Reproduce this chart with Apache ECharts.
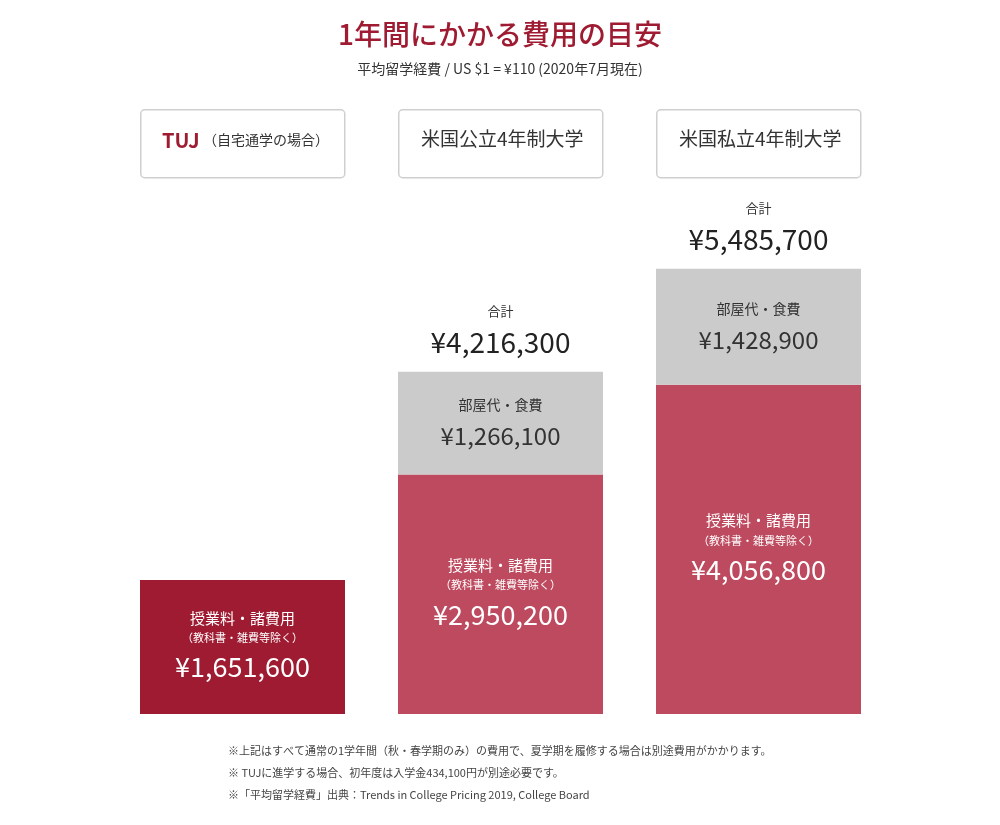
<!DOCTYPE html>
<html><head><meta charset="utf-8">
<script src="https://cdn.jsdelivr.net/npm/echarts@6/dist/echarts.min.js"></script>
<style>html,body{margin:0;background:#fff}#box1{width:1000px;height:825px}</style>
</head><body><div id="box1"></div>
<script>
var categories = ['TUJ', '米国公立4年制大学', '米国私立4年制大学'];
var tuition = [1651600, 2950200, 4056800];
var room = [0, 1266100, 1428900];
var totals = [1651600, 4216300, 5485700];
var tuitionColors = ['#9e1b32', '#bd4a5f', '#bd4a5f'];

var font = '"Noto Sans CJK JP", "Open Sans", sans-serif';
function yen(v) { return '¥' + v.toLocaleString('en-US'); }

var myChart = echarts.init(document.getElementById('box1'));

var boxes = [];
var boxLeft = [140, 398, 656];
boxLeft.forEach(function (x, i) {
    boxes.push({ type: 'rect', left: x, top: 109, shape: { width: 204, height: 68, r: 4 },
        style: { fill: '#fff', stroke: '#cfcfcf', lineWidth: 1.5 } });
});

option = {
    textStyle: { fontFamily: font },
    grid: { left: 113.5, right: 112.5, top: 227, bottom: 111 },
    xAxis: { type: 'category', data: categories, show: false },
    yAxis: { type: 'value', min: 0, max: 6000000, show: false },
    graphic: boxes.concat([
        { type: 'text', left: 'center', top: 20, style: { text: '1年間にかかる費用の目安', fill: '#9e1b32', font: '500 28px ' + font } },
        { type: 'text', left: 'center', top: 62, style: { text: '平均留学経費 / US $1 = ¥110 (2020年7月現在)', fill: '#333', font: '14px ' + font } },
        { type: 'text', left: 162, top: 130, style: { rich: {
            a: { fill: '#9e1b32', font: 'bold 20px ' + font },
            b: { fill: '#333', font: '14px ' + font } },
            text: '{a|TUJ} {b|（自宅通学の場合）}' } },
        { type: 'text', left: 421, top: 129, style: { text: categories[1], fill: '#333', font: '19px ' + font } },
        { type: 'text', left: 679, top: 129, style: { text: categories[2], fill: '#333', font: '19px ' + font } },
        { type: 'text', left: 228, top: 740, style: { text: '※上記はすべて通常の1学年間（秋・春学期のみ）の費用で、夏学期を履修する場合は別途費用がかかります。\n※ TUJに進学する場合、初年度は入学金434,100円が別途必要です。\n※「平均留学経費」出典：Trends in College Pricing 2019, College Board',
            fill: '#444', font: '11px ' + font, lineHeight: 22 } }
    ]),
    series: [
        {
            type: 'bar', stack: 'c', barWidth: 205,
            data: tuition.map(function (v, i) {
                return { value: v, itemStyle: { color: tuitionColors[i] } };
            }),
            label: {
                show: true, position: 'inside', color: '#fff',
                formatter: function (p) { return '{s|授業料・諸費用}\n{t|（教科書・雑費等除く）}\n{v|' + yen(p.value) + '}'; },
                rich: {
                    s: { fontSize: 15, color: '#fff', lineHeight: 22, fontFamily: font },
                    t: { fontSize: 11, color: '#fff', lineHeight: 18, fontFamily: font },
                    v: { fontSize: 27, color: '#fff', lineHeight: 40, fontFamily: font }
                }
            }
        },
        {
            type: 'bar', stack: 'c', barWidth: 205,
            itemStyle: { color: '#cbcbcb' },
            data: room.map(function (v) { return v === 0 ? null : v; }),
            label: {
                show: true, position: 'inside', color: '#333',
                formatter: function (p) { return '{s|部屋代・食費}\n{v|' + yen(p.value) + '}'; },
                rich: {
                    s: { fontSize: 14, color: '#333', lineHeight: 26, fontFamily: font },
                    v: { fontSize: 24, color: '#333', lineHeight: 36, fontFamily: font }
                }
            }
        },
        {
            type: 'bar', stack: 'c', barWidth: 205, silent: true,
            itemStyle: { color: 'transparent' },
            data: totals.map(function (v, i) { return i === 0 ? null : 0.0001; }),
            label: {
                show: true, position: 'top', distance: 10,
                formatter: function (p) { return '{s|合計}\n{v|' + yen(totals[p.dataIndex]) + '}'; },
                rich: {
                    s: { fontSize: 13, color: '#333', lineHeight: 26, fontFamily: font },
                    v: { fontSize: 28, color: '#222', lineHeight: 38, fontFamily: font }
                }
            }
        }
    ]
};
myChart.setOption(option);
</script></body></html>
